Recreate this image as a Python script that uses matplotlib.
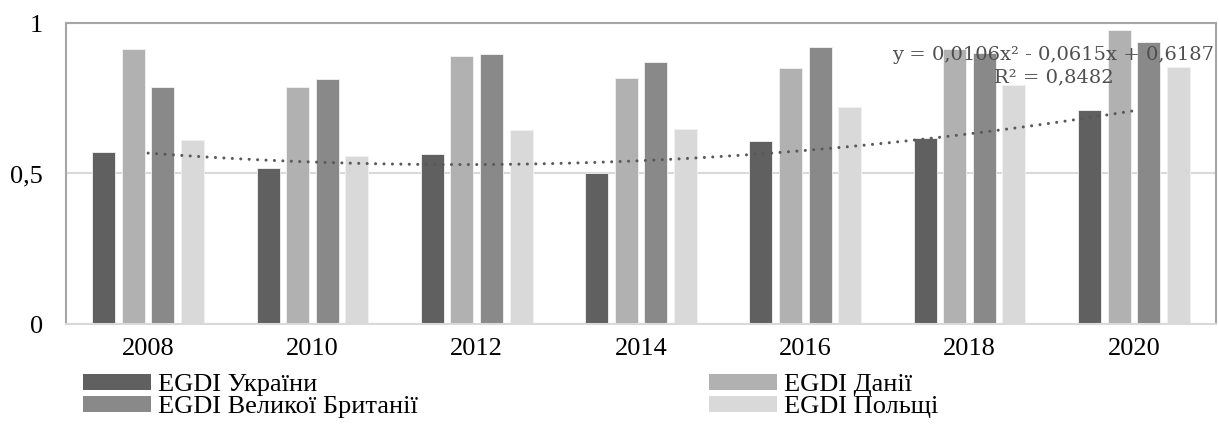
import numpy as np
import matplotlib
matplotlib.use("Agg")
import matplotlib.pyplot as plt
from matplotlib.patches import Patch
from matplotlib.font_manager import FontProperties

years = ["2008", "2010", "2012", "2014", "2016", "2018", "2020"]
ukraine = [0.5728, 0.5181, 0.5653, 0.5032, 0.6076, 0.6165, 0.7119]
denmark = [0.9134, 0.7872, 0.8889, 0.8162, 0.8510, 0.9150, 0.9758]
uk = [0.7872, 0.8147, 0.8960, 0.8695, 0.9193, 0.8999, 0.9358]
poland = [0.6117, 0.5582, 0.6441, 0.6482, 0.7211, 0.7926, 0.8531]
series_names = ["EGDI України", "EGDI Данії", "EGDI Великої Британії", "EGDI Польщі"]
y_ticks = [0, 0.5, 1]
y_tick_labels = ["0", "0,5", "1"]

colors = ["#606060", "#b1b1b1", "#898989", "#d9d9d9"]
serif = ["Liberation Serif", "DejaVu Serif"]

W, H = 1219, 436
fig = plt.figure(figsize=(W / 100, H / 100), dpi=100)
ax = fig.add_axes([66 / W, 1 - 324 / H, (1216 - 66) / W, (324 - 23) / H])

x = np.arange(len(years))
offsets = [-0.27, -0.09, 0.09, 0.27]
width = 0.14
all_series = [ukraine, denmark, uk, poland]
for vals, off, c in zip(all_series, offsets, colors):
    ax.bar(x + off, vals, width=width, color=c, edgecolor="#f2f2f2", linewidth=0.6, zorder=2)

# polynomial (order 2) trendline of Ukraine series, x = 1..7
xn = np.arange(1, len(years) + 1)
coef = np.polyfit(xn, ukraine, 2)
fit = np.polyval(coef, xn)
yu = np.array(ukraine)
r2 = 1 - np.sum((yu - fit) ** 2) / np.sum((yu - yu.mean()) ** 2)
xs = np.linspace(1, len(years), 200)
ax.plot(xs - 1, np.polyval(coef, xs), color="#595959", linewidth=2.2,
        linestyle=(0, (0.01, 2.75)), dash_capstyle="round", zorder=3)

def fmt(v):
    return f"{abs(v):.4f}".replace(".", ",")

s1 = "-" if coef[1] < 0 else "+"
s0 = "-" if coef[2] < 0 else "+"
eq = f"y = {fmt(coef[0])}x² {s1} {fmt(coef[1])}x {s0} {fmt(coef[2])}\nR² = {fmt(r2)}"
ax.text(5.51, 0.857, eq, ha="center", va="center", fontsize=14, color="#4f4f4f",
        family=["DejaVu Serif"], linespacing=1.3, zorder=4)

ax.set_xlim(-0.5, len(years) - 0.5)
ax.set_ylim(0, 1)
ax.set_xticks(x)
ax.set_xticklabels(years, fontsize=19, family=serif)
ax.set_yticks(y_ticks)
ax.set_yticklabels(y_tick_labels, fontsize=19, family=serif)
ax.tick_params(axis="both", length=0)
ax.tick_params(axis="x", pad=10)
ax.tick_params(axis="y", pad=16.5)
ax.yaxis.grid(True, color="#d9d9d9", linewidth=1.5, zorder=0)
ax.set_axisbelow(True)
for side in ["left", "top", "right"]:
    ax.spines[side].set_color("#a6a6a6")
    ax.spines[side].set_linewidth(1.5)
ax.spines["bottom"].set_color("#d9d9d9")
ax.spines["bottom"].set_linewidth(1.5)

handles = [Patch(facecolor=c, edgecolor="none") for c in colors]
leg_font = FontProperties(family=serif, size=19)
leg_kw = dict(frameon=False, prop=leg_font, handlelength=2.58,
              handleheight=0.53, handletextpad=0.27, labelspacing=0.0, borderaxespad=0,
              borderpad=0)
fig.legend([handles[0], handles[2]], [series_names[0], series_names[2]],
           loc="upper left", bbox_to_anchor=(83 / W, 1 - 374 / H), **leg_kw)
fig.legend([handles[1], handles[3]], [series_names[1], series_names[3]],
           loc="upper left", bbox_to_anchor=(709 / W, 1 - 374 / H), **leg_kw)

fig.savefig("out.png", dpi=100)
